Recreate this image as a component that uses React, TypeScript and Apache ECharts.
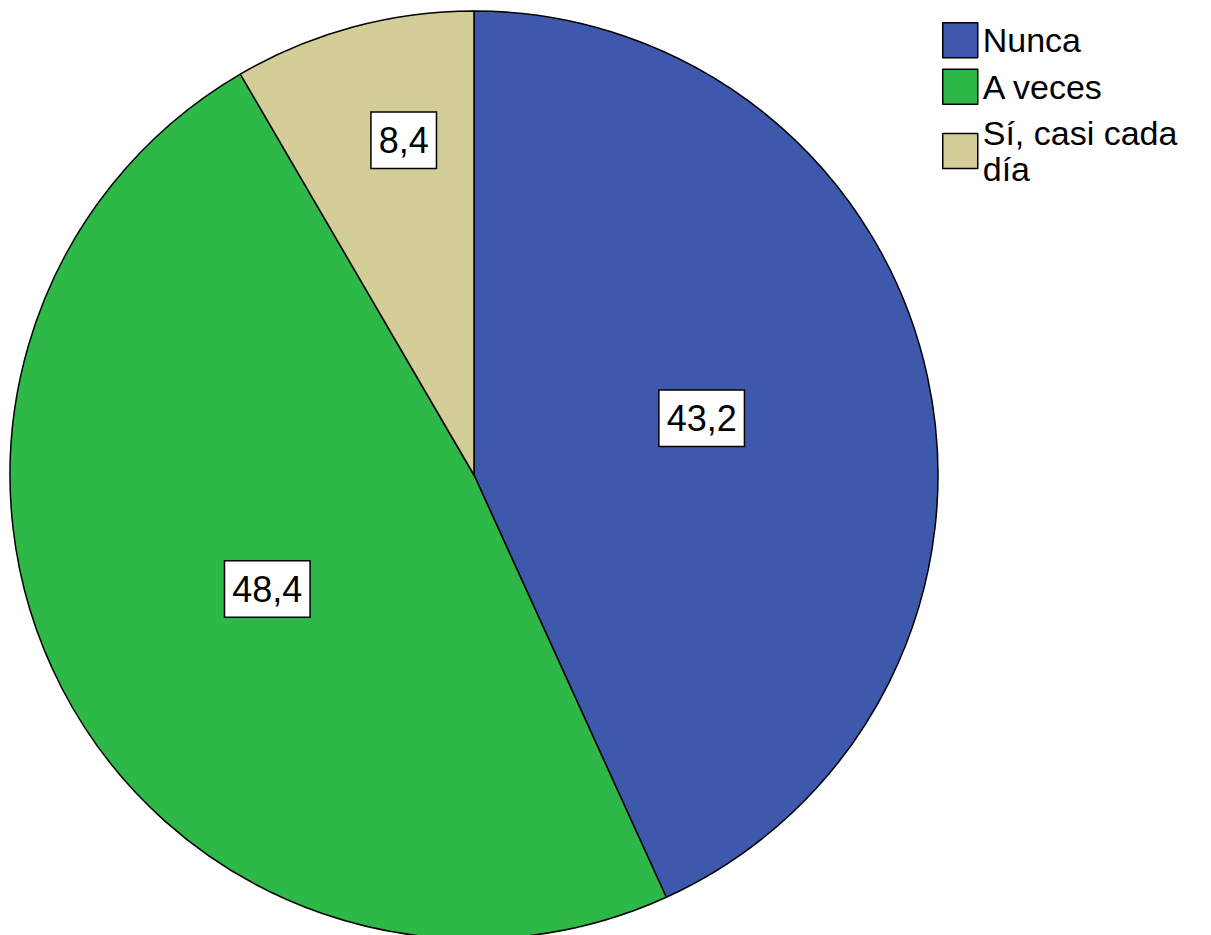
import React, { useEffect, useRef } from "react";
import * as echarts from "echarts";

const categories = ["Nunca", "A veces", "Sí, casi cada día"];
const values = [43.2, 48.4, 8.4];
const valueLabels = ["43,2", "48,4", "8,4"];
const colors = ["#3E58AC", "#2EB848", "#D3CE97"];
const legendNames = ["Nunca", "A veces", "Sí, casi cada\ndía"];

export default function App() {
  const ref = useRef<HTMLDivElement>(null);
  useEffect(() => {
    document.body.style.margin = "0";
    const chart = echarts.init(ref.current!, null, { renderer: "svg" });
    const labelShift = [
      { dx: -2, dy: -7 },
      { dx: 2, dy: 6 },
      { dx: -9, dy: -108 },
    ];
    chart.setOption({
      animation: false,
      backgroundColor: "#ffffff",
      legend: {
        orient: "vertical",
        left: 937,
        top: 17,
        icon: "rect",
        itemWidth: 35,
        itemHeight: 35,
        itemGap: 10,
        selectedMode: false,
        formatter: (name: string) => legendNames[categories.indexOf(name)],
        textStyle: {
          fontFamily: "Liberation Sans, Arial, sans-serif",
          fontSize: 34,
          lineHeight: 36,
          color: "#000",
        },
        itemStyle: { borderColor: "#000", borderWidth: 1.5 },
        data: categories,
      },
      series: [
        {
          type: "pie",
          center: [474, 475],
          radius: [0, 464],
          startAngle: 90,
          clockwise: true,
          avoidLabelOverlap: false,
          itemStyle: { borderColor: "#000", borderWidth: 1.5 },
          emphasis: { disabled: true },
          label: {
            show: true,
            position: "inside",
            formatter: (p: any) => valueLabels[p.dataIndex],
            fontFamily: "Liberation Sans, Arial, sans-serif",
            fontSize: 36,
            lineHeight: 41,
            color: "#000",
            backgroundColor: "#ffffff",
            borderColor: "#000",
            borderWidth: 1.5,
            padding: [7, 7, 7, 7],
          },
          labelLine: { show: false },
          labelLayout: (p: any) => labelShift[p.dataIndex],
          data: categories.map((c, i) => ({
            name: c,
            value: values[i],
            itemStyle: { color: colors[i] },
          })),
        },
      ],
    });
    return () => chart.dispose();
  }, []);
  return <div ref={ref} style={{ width: 1211, height: 935 }} />;
}
